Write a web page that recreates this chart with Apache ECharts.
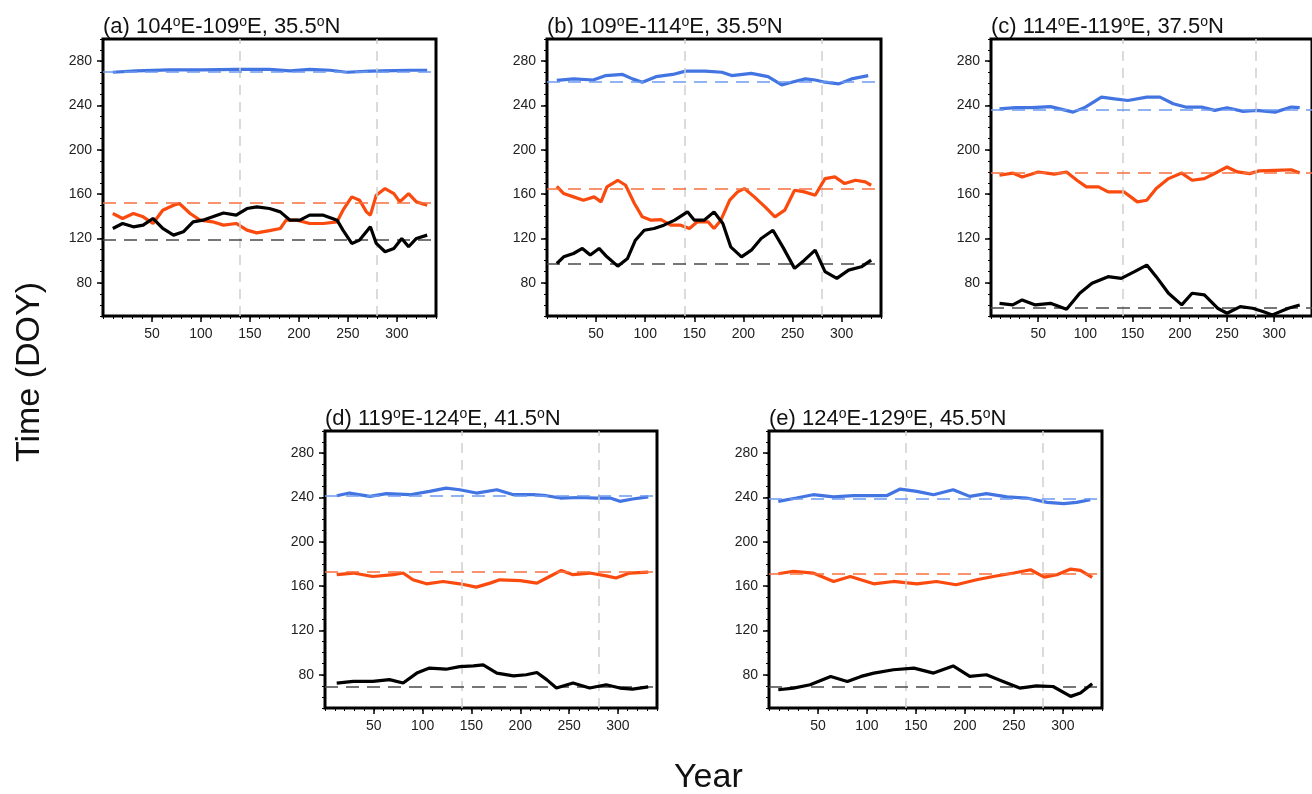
<!DOCTYPE html>
<html>
<head>
<meta charset="utf-8">
<script src="https://cdn.jsdelivr.net/npm/echarts@6/dist/echarts.min.js"></script>
<style>
html,body{margin:0;padding:0;background:#fff;}
#chart{width:1312px;height:794px;}
</style>
</head>
<body>
<div id="chart"></div>
<script>
// ---------- DATA ----------
const panelTitles = ['(a) 104°E-109°E, 35.5°N', '(b) 109°E-114°E, 35.5°N', '(c) 114°E-119°E, 37.5°N', '(d) 119°E-124°E, 41.5°N', '(e) 124°E-129°E, 45.5°N'];
const xTickValues = [50, 100, 150, 200, 250, 300];
const yTickValues = [80, 120, 160, 200, 240, 280];
const markYears = [140, 280];

// [year, DOY] pairs per panel
const aBlue = [[10,270],[34,271.2],[68,272.2],[102,272.2],[136,272.5],[170,272.5],[191,271.2],[211,272.5],[232,271.8],[249,270],[273,271],[297,271.5],[314,271.8],[331,271.8]];
const aOrange = [[10,142.5],[20,138],[31,142.5],[41,139.5],[51,133.5],[61,145.5],[72,150],[78,151.5],[89,142.5],[99,136.5],[112,135],[123,132],[136,133.5],[147,127.5],[157,125],[170,127],[181,129],[187,136.5],[198,136.5],[211,133.5],[225,133.5],[239,135],[245,145.5],[254,157.5],[262,154.5],[269,144],[273,141],[279,159],[288,165],[297,160.5],[303,153],[312,160.5],[320,153],[331,150]];
const aBlack = [[10,129],[20,133.5],[31,130.5],[41,132],[51,138],[61,129],[72,123],[82,126],[92,135],[102,136.5],[112,139.5],[123,143],[136,141],[147,147],[157,148.5],[170,147],[181,144],[191,136.5],[201,136.5],[211,141],[225,141],[239,136.5],[245,127.5],[254,115.5],[262,118.5],[273,130.5],[279,115.5],[288,108],[297,111],[305,120],[312,112.5],[320,120],[331,123]];

const bBlue = [[10,262.6],[27,264],[47,263],[60,267],[77,268],[87,264],[97,261],[111,266],[128,268],[141,271],[161,271],[178,270],[188,267],[208,269],[225,266],[239,258.5],[249,261],[263,264],[273,263],[283,261],[297,259.5],[310,264],[327,267]];
const bOrange = [[10,167],[17,160.5],[27,157.5],[37,154.5],[48,157.5],[55,153],[61,166.5],[72,172.5],[80,168],[89,151.5],[97,139.5],[106,136.5],[116,137],[126,132],[136,132],[145,129],[153,135],[164,135],[170,129],[177,136.5],[186,154.5],[194,162],[201,165],[211,157.5],[222,148.5],[232,139.5],[242,145.5],[252,163.5],[262,162],[273,159],[283,174],[293,175.5],[303,169.5],[314,172.5],[324,171],[330,168]];
const bBlack = [[10,97.4],[17,103.4],[27,106.4],[36,111],[44,105],[53,111],[61,103.4],[72,95],[82,102],[90,118.4],[99,127.4],[109,129],[119,132],[130,136.5],[143,144],[150,136.5],[160,136.5],[170,144],[179,133.5],[187,112.4],[198,103.4],[208,109.4],[218,120],[230,127.4],[240,112.4],[252,93],[262,100.4],[273,109.4],[283,90],[295,84],[307,91.4],[320,94.4],[330,100.4]];

const cBlue = [[9,237],[26,238],[43,238],[63,239],[87,234],[100,238.5],[117,247.6],[131,246],[145,244.5],[165,247.6],[179,247.6],[193,241.6],[206,238.6],[223,238.6],[237,235.6],[250,238],[267,234.7],[281,235.6],[301,234],[318,238.6],[327,238]];
const cOrange = [[9,177],[23,179],[33,175.5],[50,180],[67,178],[80,180],[91,172.5],[101,166.5],[114,166.5],[124,162],[141,162],[148,157.5],[155,153],[165,154.5],[175,165],[188,174],[202,179],[213,172.5],[226,174],[240,180],[250,184.5],[261,180],[274,178.5],[284,181],[301,181.5],[318,182],[327,179]];
const cBlack = [[9,61.4],[23,60],[33,64.5],[47,60],[63,61.4],[80,56],[94,70.5],[107,79.5],[124,85.5],[138,84],[152,90],[165,96],[175,85.5],[188,70.5],[202,60],[213,70.5],[226,69],[240,57],[250,52.5],[264,58.5],[277,57],[288,54],[298,51],[315,57],[327,60]];

const dBlue = [[12,241.6],[25,244],[46,241],[63,243.5],[87,242.5],[107,245.5],[124,248.5],[138,247],[155,244],[176,247],[193,242.5],[213,242.5],[227,241.6],[241,239.5],[261,240],[278,239.5],[292,239.5],[302,236.5],[315,238.6],[331,240.5]];
const dOrange = [[12,170.3],[29,171.8],[49,168.7],[70,170.3],[80,171.8],[90,165.7],[104,162.1],[121,164.2],[138,162.1],[155,159.1],[169,162.7],[179,165.7],[200,165],[217,162.7],[230,168.7],[242,174.2],[254,170.3],[271,171.8],[288,169.3],[298,167.3],[312,171.8],[331,172.7]];
const dBlack = [[12,72.5],[29,74],[49,74],[66,75.6],[80,72.5],[94,81.5],[107,86],[124,85],[138,87.4],[152,88],[162,89],[176,81.5],[193,79],[206,80],[217,82],[227,75.6],[237,68],[254,72.5],[271,68],[288,71],[302,68],[315,67],[331,69]];

const eBlue = [[9.5,236.5],[28,239.5],[45,242.5],[66,240.5],[86,241.6],[107,241.6],[120,241.6],[134,247.6],[151,245.5],[168,242.5],[188,247],[205,241],[222,243.5],[243,240.5],[263,239.5],[284,235.6],[301,234.4],[314,235.6],[328,238]];
const eOrange = [[9.5,171.2],[25,173.4],[45,171.8],[66,164.2],[83,168.7],[107,162.1],[127,164.2],[151,162.1],[171,164.2],[191,161.2],[212,165.7],[229,168.7],[250,171.8],[267,174.8],[281,168.1],[294,170.3],[308,175.4],[318,174.2],[330,167.9]];
const eBlack = [[9.5,66.5],[25,68],[42,71],[63,78.5],[80,74],[94,78.5],[107,81.5],[127,84.5],[148,86],[168,81.5],[188,88],[205,78.5],[222,80],[239,74],[256,68],[273,70],[290,69.4],[308,60.5],[318,63.5],[330,71.9]];

// dashed reference (mean) levels per panel: blue, orange, black
const aMeans = [270.7, 152.5, 118.5];
const bMeans = [261.7, 164.4, 97.4];
const cMeans = [236, 179, 57];
const dMeans = [241.6, 173.4, 69.3];
const eMeans = [239, 170.9, 69];

// ---------- BUILD ----------
const panelData = [
  [aBlue, aOrange, aBlack, aMeans],
  [bBlue, bOrange, bBlack, bMeans],
  [cBlue, cOrange, cBlack, cMeans],
  [dBlue, dOrange, dBlack, dMeans],
  [eBlue, eOrange, eBlack, eMeans]
];
const gridBoxes = [
  {left:103, top:39, width:333, height:277},
  {left:547, top:39, width:334, height:277},
  {left:991, top:39, width:333, height:277},
  {left:325, top:431, width:332, height:277},
  {left:769, top:431, width:333, height:277}
];
const FONT = '"Liberation Sans", Arial, Helvetica, sans-serif';
const lineColors = ['#4274e2', '#fa4a0e', '#000000'];
const meanColors = ['#6d9bf0', '#f7703f', '#4a4a4a'];

const grid = [], xAxis = [], yAxis = [], series = [], title = [];
gridBoxes.forEach((g, i) => {
  grid.push(Object.assign({show:true, borderColor:'#000', borderWidth:3, backgroundColor:'rgba(0,0,0,0)', containLabel:false}, g));
  title.push({
    text: panelTitles[i].replace(/°/g, '{s|o}'),
    left: g.left, top: g.top - 24, padding: 0,
    textStyle: {fontFamily: FONT, fontSize: 22, fontWeight: 'normal', color: '#111', lineHeight: 23,
      rich: {s: {fontFamily: FONT, fontSize: 14, verticalAlign: 'top', lineHeight: 14, color: '#111'}}}
  });
  // minor-tick x axis with labels
  xAxis.push({gridIndex:i, type:'value', min:0, max:340, interval:10, position:'bottom',
    axisLine:{show:false}, splitLine:{show:false},
    axisTick:{show:true, length:3, lineStyle:{color:'#000', width:1}},
    axisLabel:{customValues:xTickValues, margin:11, fontFamily:FONT, fontSize:14, color:'#222'}});
  // major-tick x axis
  xAxis.push({gridIndex:i, type:'value', min:0, max:340, interval:10, position:'bottom',
    axisLine:{show:false}, splitLine:{show:false},
    axisTick:{show:true, length:6, customValues:xTickValues, lineStyle:{color:'#000', width:1.5}},
    axisLabel:{show:false}});
  yAxis.push({gridIndex:i, type:'value', min:50, max:300, interval:10, position:'left',
    axisLine:{show:false}, splitLine:{show:false},
    axisTick:{show:true, length:3, lineStyle:{color:'#000', width:1}},
    axisLabel:{customValues:yTickValues, margin:11, fontFamily:FONT, fontSize:14, color:'#222'}});
  yAxis.push({gridIndex:i, type:'value', min:50, max:300, interval:10, position:'left',
    axisLine:{show:false}, splitLine:{show:false},
    axisTick:{show:true, length:6, customValues:yTickValues, lineStyle:{color:'#000', width:1.5}},
    axisLabel:{show:false}});

  // vertical dashed guide lines
  series.push({type:'line', xAxisIndex:2*i, yAxisIndex:2*i, data:[], z:1, silent:true,
    markLine:{silent:true, symbol:'none', label:{show:false},
      lineStyle:{color:'#cfcfcf', type:[10,7], width:1.5},
      data: markYears.map(v => ({xAxis:v}))}});

  const pd = panelData[i];
  for (let k = 0; k < 3; k++) {
    series.push({type:'line', xAxisIndex:2*i, yAxisIndex:2*i, data:pd[k], showSymbol:false, z:3+k,
      clip:true, lineStyle:{color:lineColors[k], width:3.2}, itemStyle:{color:lineColors[k]},
      markLine:{silent:true, symbol:'none', label:{show:false},
        lineStyle:{color:meanColors[k], type:[13,8], width:1.5},
        data:[{yAxis:pd[3][k]}]}});
  }
});

const chart = echarts.init(document.getElementById('chart'), null, {renderer:'canvas'});
chart.setOption({
  animation:false,
  backgroundColor:'#fff',
  title: title,
  grid: grid, xAxis: xAxis, yAxis: yAxis, series: series,
  graphic: [
    {type:'text', left:13, top:282, rotation:Math.PI/2,
      style:{text:'Time (DOY)', font:'34px ' + FONT, fill:'#111'}},
    {type:'text', left:674, top:761,
      style:{text:'Year', font:'34px ' + FONT, fill:'#111'}}
  ]
});
</script>
</body>
</html>
